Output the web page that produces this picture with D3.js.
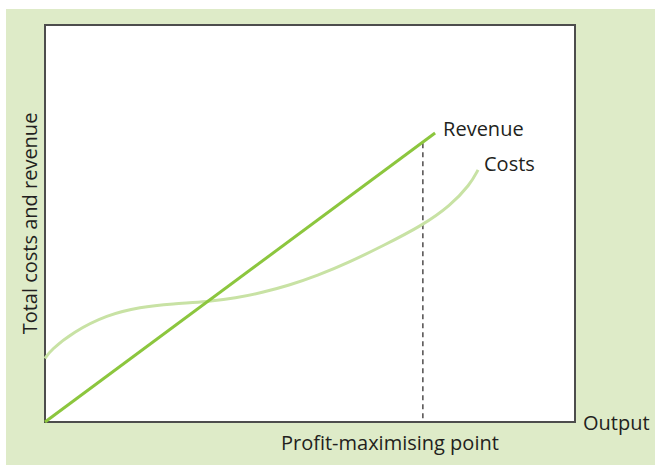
<!DOCTYPE html>
<html>
<head>
<meta charset="utf-8">
<script src="https://cdn.jsdelivr.net/npm/d3@7"></script>
<style>
  body { margin: 0; background: #fff; }
  text { font-family: "Open Sans", "Noto Sans", sans-serif; fill: #231f20; }
</style>
</head>
<body>
<div id="chart"></div>
<script>
// output on x (0..10), money on y (0..100)
const revenueX = [0, 7.36];
const revenueY = [0, 72.8];

const costsX = [0, 0.1, 0.53, 1.17, 1.79, 2.42, 3.06, 3.6, 4.1, 4.6, 5.13, 5.75, 6.38, 7.13, 7.64, 8.02, 8.17];
const costsY = [16.0, 18.0, 22.7, 27.0, 29.0, 29.8, 30.3, 31.2, 32.6, 34.4, 36.8, 40.3, 44.4, 49.6, 54.4, 59.8, 63.5];

const profitMaxX = 7.13;
const dashTopY = 70.2;

const labels = { revenue: "Revenue", costs: "Costs", xTitle: "Output", yTitle: "Total costs and revenue", point: "Profit-maximising point" };

const W = 655, H = 465;
let margin = { top: 25, right: 80, bottom: 43, left: 45 },
    width = W - margin.left - margin.right,
    height = H - margin.top - margin.bottom;

const svg = d3.select("#chart").append("svg")
    .attr("width", W)
    .attr("height", H);

svg.append("rect")
    .attr("x", 6).attr("y", 9)
    .attr("width", W - 6).attr("height", H - 9)
    .attr("fill", "#deebc8");

const g = svg.append("g")
    .attr("transform", `translate(${margin.left},${margin.top})`);

const x = d3.scaleLinear().domain([0, 10]).range([0, width]);
const y = d3.scaleLinear().domain([0, 100]).range([height, 0]);

g.append("rect")
    .attr("width", width).attr("height", height)
    .attr("fill", "#fff")
    .attr("stroke", "#4d4d4d")
    .attr("stroke-width", 2);

// dashed profit-max line
g.append("line")
    .attr("x1", x(profitMaxX)).attr("x2", x(profitMaxX))
    .attr("y1", y(dashTopY)).attr("y2", y(0))
    .attr("stroke", "#231f20")
    .attr("stroke-width", 1.2)
    .attr("stroke-dasharray", "5,4");

const line = d3.line()
    .x(d => x(d[0]))
    .y(d => y(d[1]))
    .curve(d3.curveBasis);

g.append("path")
    .datum(d3.zip(costsX, costsY))
    .attr("d", line)
    .attr("fill", "none")
    .attr("stroke", "#c8e2a4")
    .attr("stroke-width", 3);

g.append("path")
    .datum(d3.zip(revenueX, revenueY))
    .attr("d", d3.line().x(d => x(d[0])).y(d => y(d[1])))
    .attr("fill", "none")
    .attr("stroke", "#8cc63e")
    .attr("stroke-width", 3);

// labels
g.append("text")
    .attr("x", x(revenueX[1]) + 8).attr("y", y(revenueY[1]) + 3)
    .attr("font-size", 20)
    .text(labels.revenue);

g.append("text")
    .attr("x", x(costsX[costsX.length - 1]) + 6).attr("y", y(costsY[costsY.length - 1]) + 1)
    .attr("font-size", 20)
    .text(labels.costs);

g.append("text")
    .attr("x", width + 8).attr("y", height + 8)
    .attr("font-size", 20)
    .text(labels.xTitle);

g.append("text")
    .attr("x", x(profitMaxX) - 33).attr("y", height + 28)
    .attr("text-anchor", "middle")
    .attr("font-size", 20)
    .text(labels.point);

g.append("text")
    .attr("transform", `translate(-8,${height / 2}) rotate(-90)`)
    .attr("text-anchor", "middle")
    .attr("font-size", 20)
    .text(labels.yTitle);
</script>
</body>
</html>
